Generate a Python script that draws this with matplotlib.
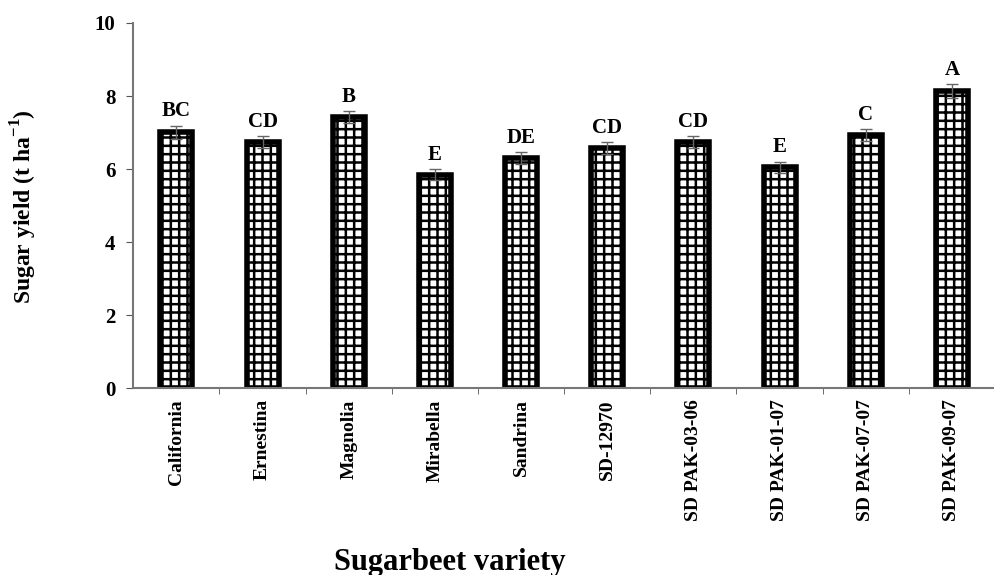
import matplotlib.pyplot as plt
import numpy as np

sorter = ['California', 'Ernestina', 'Magnolia', 'Mirabella', 'Sandrina', 'SD-12970',
          'SD PAK-03-06', 'SD PAK-01-07', 'SD PAK-07-07', 'SD PAK-09-07']
socker = [7.01, 6.74, 7.42, 5.84, 6.30, 6.57, 6.74, 6.05, 6.93, 8.14]
fel = [0.18, 0.16, 0.17, 0.15, 0.17, 0.17, 0.16, 0.15, 0.17, 0.19]
bokstaver = ['BC', 'CD', 'B', 'E', 'DE', 'CD', 'CD', 'E', 'C', 'A']

plt.rcParams['font.family'] = ['Liberation Serif', 'DejaVu Serif']
plt.rcParams['font.weight'] = 'bold'
plt.rcParams['mathtext.fontset'] = 'custom'
plt.rcParams['mathtext.rm'] = 'Liberation Serif:bold'
plt.rcParams['mathtext.bf'] = 'Liberation Serif:bold'
plt.rcParams['hatch.linewidth'] = 1.8

fig = plt.figure(figsize=(9.95, 5.75), dpi=100)
ax = fig.add_axes([0.134, 0.325, 0.866, 0.635])

x = np.arange(len(sorter))
ax.bar(x, socker, width=0.37, color='white', edgecolor='black', linewidth=4,
       hatch='++', yerr=fel, error_kw=dict(ecolor='#666666', elinewidth=1, capsize=4, capthick=1))

# bokstäver över staplarna
for i in range(len(sorter)):
    ax.text(x[i], socker[i] + fel[i] + 0.12, bokstaver[i], ha='center', va='bottom',
            fontsize=15, fontweight='bold')

ax.set_xlim(-0.5, 9.5)
ax.set_ylim(0, 10)
ax.set_yticks(range(0, 11, 2))
ax.set_xticks(x)
ax.set_xticklabels(sorter, rotation=90, fontsize=14, fontweight='bold')
ax.set_xticks(x[:-1] + 0.5, minor=True)
ax.tick_params(axis='x', which='major', length=0, pad=8)
ax.tick_params(axis='x', which='minor', length=4, color='#555555')
ax.tick_params(axis='y', labelsize=15, length=5, color='#555555', pad=8)
for t in ax.get_yticklabels():
    t.set_fontweight('bold')

ax.spines['right'].set_visible(False)
ax.spines['top'].set_visible(False)
ax.spines['left'].set_color('#777777')
ax.spines['bottom'].set_color('#777777')
ax.spines['left'].set_linewidth(1.5)
ax.spines['bottom'].set_linewidth(1.5)

fig.text(0.024, 0.64, 'Sugar yield (t ha$^{\\mathrm{-1}}$)', rotation=90, ha='center', va='center',
         fontsize=17, fontweight='bold')
fig.text(0.452, 0.022, 'Sugarbeet variety', ha='center', va='center', fontsize=22, fontweight='bold')

plt.savefig('out.png', dpi=100)
